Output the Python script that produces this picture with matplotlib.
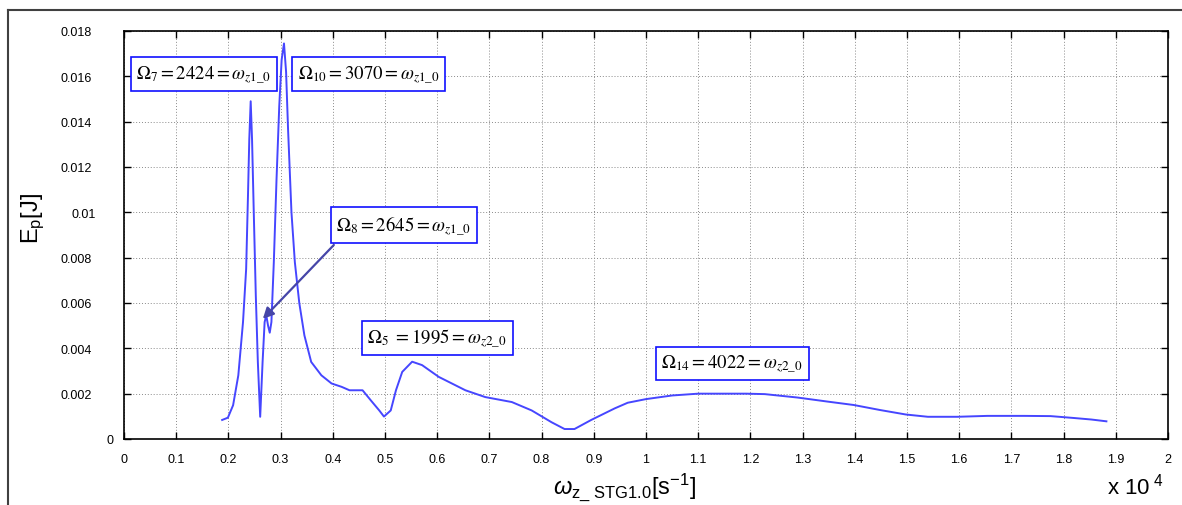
import matplotlib
matplotlib.use("Agg")
import matplotlib.pyplot as plt
from matplotlib.lines import Line2D

# ---- data (x in units of 1e4 s^-1, y in J) ----
omega = [0.188, 0.199, 0.209, 0.219, 0.228, 0.234, 0.2375, 0.240, 0.2427, 0.2453,
         0.2486, 0.2525, 0.2564, 0.2609, 0.2655, 0.2694, 0.2726, 0.2760, 0.2792, 0.2824,
         0.287, 0.2922, 0.2974, 0.302, 0.3065, 0.3105, 0.3143, 0.3208, 0.3273, 0.3358,
         0.3456, 0.3586, 0.3781, 0.3976, 0.417, 0.432, 0.457, 0.473, 0.489, 0.498,
         0.511, 0.521, 0.533, 0.552, 0.571, 0.603, 0.654, 0.692, 0.743, 0.781,
         0.819, 0.844, 0.863, 0.895, 0.940, 0.965, 1.0, 1.05, 1.10, 1.192,
         1.2275, 1.29, 1.348, 1.398, 1.448, 1.498, 1.54, 1.597, 1.654, 1.725,
         1.775, 1.818, 1.853, 1.882]
energy = [0.00084, 0.00094, 0.00149, 0.00281, 0.00516, 0.0075, 0.01073, 0.01322, 0.0149, 0.01322,
          0.0100, 0.00633, 0.0034, 0.00098, 0.0034, 0.00516, 0.00545, 0.0050, 0.00469, 0.00516,
          0.0078, 0.01146, 0.01468, 0.01673, 0.01745, 0.0162, 0.01366, 0.0100, 0.0078, 0.0060,
          0.00457, 0.0034, 0.00281, 0.00245, 0.0023, 0.00215, 0.00215, 0.0017, 0.00126, 0.00099,
          0.00126, 0.00215, 0.00296, 0.00341, 0.00326, 0.00274, 0.00215, 0.00185, 0.00163, 0.00126,
          0.00074, 0.00044, 0.00044, 0.00084, 0.00135, 0.0016, 0.00176, 0.00192, 0.0020, 0.0020,
          0.00198, 0.00183, 0.00165, 0.0015, 0.00128, 0.00108, 0.00098, 0.00098, 0.00102, 0.00102,
          0.00101, 0.00093, 0.00086, 0.00078]

xticks = [round(0.1 * i, 1) for i in range(21)]
xtick_labels = ["0", "0.1", "0.2", "0.3", "0.4", "0.5", "0.6", "0.7", "0.8", "0.9",
                "1", "1.1", "1.2", "1.3", "1.4", "1.5", "1.6", "1.7", "1.8", "1.9", "2"]
yticks = [0, 0.002, 0.004, 0.006, 0.008, 0.01, 0.012, 0.014, 0.016, 0.018]
ytick_labels = ["0", "0.002", "0.004", "0.006", "0.008", "0.01", "0.012", "0.014", "0.016", "0.018"]

ann_texts = [r"$\Omega_7 = 2424 = \omega_{z1\_0}$",
             r"$\Omega_{10} = 3070 = \omega_{z1\_0}$",
             r"$\Omega_8 = 2645 = \omega_{z1\_0}$",
             r"$\Omega_5\ = 1995 = \omega_{z2\_0}$",
             r"$\Omega_{14} = 4022 = \omega_{z2\_0}$"]
ann_x = [0.153, 0.469, 0.536, 0.600, 1.165]
ann_y = [0.0161, 0.0161, 0.00944, 0.00446, 0.00333]
arrow_from = (0.402, 0.00856)
arrow_to = (0.266, 0.0053)

plt.rcParams["font.family"] = ["Liberation Sans", "DejaVu Sans"]
plt.rcParams["mathtext.fontset"] = "custom"
plt.rcParams["mathtext.rm"] = "Liberation Sans"
plt.rcParams["mathtext.it"] = "Liberation Sans:italic"

W, H = 1182, 506
fig = plt.figure(figsize=(W / 100, H / 100), dpi=100)
fig.patch.set_facecolor("white")

x0, x1, ytop, ybot = 124, 1168, 32, 440
ax = fig.add_axes([x0 / W, 1 - ybot / H, (x1 - x0) / W, (ybot - ytop) / H])

ax.plot(omega, energy, color="#4646ff", lw=1.4)

ax.set_xlim(0, 2)
ax.set_ylim(0, 0.018)
ax.set_xticks(xticks)
ax.set_xticklabels(xtick_labels, fontsize=9)
ax.set_yticks(yticks)
ax.set_yticklabels(ytick_labels, fontsize=9)
ax.tick_params(direction="in", length=5, width=1, top=True, right=True, colors="black")
ax.tick_params(axis="x", pad=10)
ax.grid(True, linestyle=(0, (1, 2)), color="#8a8a8a", lw=0.7)
for s in ax.spines.values():
    s.set_linewidth(1.2)

# MATLAB-like y tick label placement (left edges staggered)
for tick, lab in zip(ax.yaxis.get_major_ticks(), ytick_labels):
    n = len(lab)
    tick.set_pad((6 + 11.5 * n) * 0.72)
    tick.label1.set_horizontalalignment("left")

# annotations
for t, xa, ya in zip(ann_texts, ann_x, ann_y):
    ax.text(xa, ya, t, ha="center", va="center", fontsize=13.5, color="black",
            math_fontfamily="stix",
            bbox=dict(boxstyle="square,pad=0.3", fc="white", ec="#1010ff", lw=1.2))

ax.annotate("", xy=arrow_to, xytext=arrow_from,
            arrowprops=dict(arrowstyle="-|>", color="#4646a8", lw=1.6, mutation_scale=16,
                            shrinkA=0, shrinkB=0))

# axis labels
fig.text(33 / W, 1 - 218 / H, r"E$_{\mathregular{p}}$[J]", rotation=90, fontsize=17,
         ha="center", va="center")
fig.text(625 / W, 1 - 487 / H, r"$\omega_{\mathregular{z\_\ STG1.0}}$[s$^{\mathregular{-1}}$]",
         fontsize=17, ha="center", va="center")
fig.text(1135 / W, 1 - 487 / H, r"x 10$^{\mathregular{\ 4}}$", fontsize=16,
         ha="center", va="center")

# outer frame lines (top and left)
fig.add_artist(Line2D([8 / W, 8 / W], [0, 1 - 11 / H], transform=fig.transFigure,
                      color="#404040", lw=1.5))
fig.add_artist(Line2D([8 / W, 1], [1 - 11 / H, 1 - 11 / H], transform=fig.transFigure,
                      color="#404040", lw=1.5))

fig.savefig("out.png", dpi=100, facecolor="white")
